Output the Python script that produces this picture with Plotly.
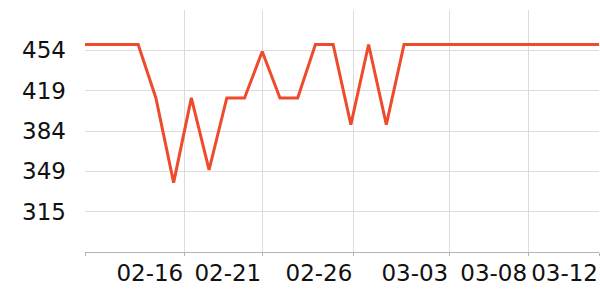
import plotly.graph_objects as go
import pandas as pd

# ---- data ----
dates = pd.date_range("2023-02-11", "2023-03-12", freq="D")
values = [459, 459, 459, 459, 413, 340, 413, 351, 413, 413,
          453, 413, 413, 459, 459, 390, 459, 390, 459, 459,
          459, 459, 459, 459, 459, 459, 459, 459, 459, 459]

x_tick_vals = ["2023-02-11", "2023-02-16 14:24", "2023-02-21", "2023-02-26 03:22",
               "2023-03-03 13:12", "2023-03-08", "2023-03-12"]
x_tick_text = ["", "02-16", "02-21", "02-26", "03-03", "03-08", "03-12"]

y_tick_vals = [315, 349.75, 384.5, 419.25, 454]
y_tick_text = ["315", "349", "384", "419", "454"]
y_range = [280.25, 488.75]

LINE_COLOR = "#ee4b2d"
GRID = "#dcdcdc"
AXIS = "#b4b4b4"
FONT = dict(family="DejaVu Sans", size=23, color="#111111")

fig = go.Figure()
fig.add_trace(go.Scatter(
    x=dates, y=values, mode="lines",
    line=dict(color=LINE_COLOR, width=3),
    hoverinfo="skip", showlegend=False,
))

fig.update_layout(
    width=600, height=300,
    margin=dict(l=85, r=1, t=10, b=48),
    paper_bgcolor="white", plot_bgcolor="white",
    font=FONT,
)
fig.update_xaxes(
    type="date",
    range=[dates[0], dates[-1]],
    tickmode="array", tickvals=x_tick_vals, ticktext=x_tick_text,
    ticklabelposition="outside left",
    tickangle=0,
    showgrid=True, gridcolor=GRID, gridwidth=1,
    showline=True, linecolor=AXIS, linewidth=1,
    ticks="outside", ticklen=3, tickcolor=AXIS,
    zeroline=False,
    tickfont=FONT,
)
fig.update_yaxes(
    range=y_range,
    tickmode="array", tickvals=y_tick_vals, ticktext=y_tick_text,
    showgrid=True, gridcolor=GRID, gridwidth=1,
    showline=False, zeroline=False,
    ticks="", ticklabelstandoff=18,
    tickfont=FONT,
)

fig.write_html("out.html")
